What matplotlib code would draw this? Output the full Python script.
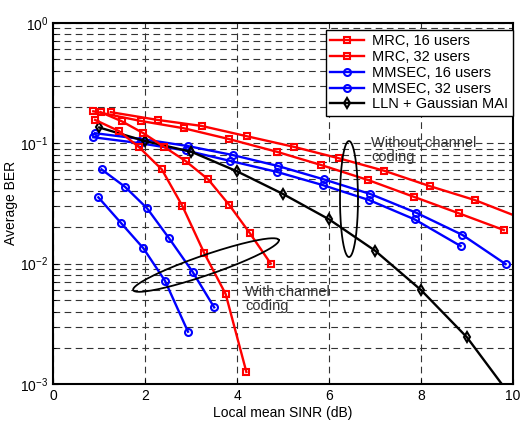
import numpy as np
import matplotlib
matplotlib.use("Agg")
import matplotlib.pyplot as plt

plt.rcParams['font.family'] = ['Liberation Sans', 'DejaVu Sans']

# uncoded curves
mrc16_x = [0.87, 1.90, 2.84, 3.83, 4.86, 5.83, 6.85, 7.84, 8.83, 9.80]
mrc16_y = [0.184, 0.153, 0.133, 0.108, 0.0849, 0.0658, 0.0494, 0.0359, 0.0261, 0.019]
mrc32_x = [1.25, 2.27, 3.23, 4.22, 5.23, 6.22, 7.20, 8.19, 9.17, 10.16]
mrc32_y = [0.181, 0.156, 0.139, 0.114, 0.0933, 0.0748, 0.059, 0.044, 0.0337, 0.024]
mmse16_x = [0.87, 1.88, 2.88, 3.84, 4.86, 5.86, 6.87, 7.86, 8.86]
mmse16_y = [0.112, 0.100, 0.087, 0.0714, 0.0578, 0.0449, 0.0337, 0.0233, 0.014]
mmse32_x = [0.91, 1.94, 2.93, 3.91, 4.89, 5.88, 6.90, 7.90, 8.90, 9.84]
mmse32_y = [0.121, 0.108, 0.0946, 0.0796, 0.0646, 0.0501, 0.0378, 0.0264, 0.0173, 0.0099]
lln_x = [1, 2, 3, 4, 5, 6, 7, 8, 9, 10]
lln_y = [0.135, 0.104, 0.0849, 0.0583, 0.0378, 0.0233, 0.0128, 0.00603, 0.00244, 0.00075]

# coded curves
mrc16c_x = [0.91, 1.43, 1.87, 2.36, 2.81, 3.28, 3.75, 4.20]
mrc16c_y = [0.156, 0.126, 0.0923, 0.0606, 0.030, 0.0123, 0.00558, 0.00126]
mrc32c_x = [1.03, 1.49, 1.96, 2.41, 2.88, 3.37, 3.83, 4.28, 4.73]
mrc32c_y = [0.181, 0.152, 0.121, 0.0933, 0.071, 0.050, 0.0306, 0.0178, 0.010]
mmse16c_x = [0.98, 1.47, 1.96, 2.43, 2.93]
mmse16c_y = [0.0355, 0.0218, 0.0134, 0.0072, 0.00272]
mmse32c_x = [1.05, 1.56, 2.04, 2.52, 3.03, 3.50]
mmse32c_y = [0.0606, 0.0434, 0.0288, 0.0162, 0.00855, 0.00433]

fig = plt.figure(figsize=(5.2, 4.24), dpi=100)
ax = fig.add_axes([0.1025, 0.0943, 0.884, 0.852])

red_style = dict(color='#ff0000', marker='s', markersize=5, mfc='none', mew=1.5, lw=1.7)
blue_style = dict(color='#0000ff', marker='o', markersize=5, mfc='none', mew=1.5, lw=1.7)
black_style = dict(color='black', marker='d', markersize=5.5, mfc='none', mew=1.5, lw=1.7)

ax.plot(mrc16_x, mrc16_y, label='MRC, 16 users', **red_style)
ax.plot(mrc32_x, mrc32_y, label='MRC, 32 users', **red_style)
ax.plot(mmse16_x, mmse16_y, label='MMSEC, 16 users', **blue_style)
ax.plot(mmse32_x, mmse32_y, label='MMSEC, 32 users', **blue_style)
ax.plot(lln_x, lln_y, label='LLN + Gaussian MAI', **black_style)
ax.plot(mrc16c_x, mrc16c_y, **red_style)
ax.plot(mrc32c_x, mrc32c_y, **red_style)
ax.plot(mmse16c_x, mmse16c_y, **blue_style)
ax.plot(mmse32c_x, mmse32c_y, **blue_style)

ax.set_yscale('log')
ax.set_xlim(0, 10)
ax.set_ylim(1e-3, 1)
ax.set_xticks([0, 2, 4, 6, 8, 10])
ax.set_xlabel('Local mean SINR (dB)', fontsize=10, labelpad=2)
ax.set_ylabel('Average BER', fontsize=10, labelpad=2)
ax.tick_params(which='both', direction='in', labelsize=10)
ax.tick_params(axis='y', which='minor', labelleft=False)
ax.grid(True, which='both', axis='y', color='0.2', linestyle=(0, (6, 4)), lw=0.8)
ax.grid(True, which='major', axis='x', color='0.2', linestyle=(0, (6, 4)), lw=0.8)
for s in ax.spines.values():
    s.set_linewidth(1.5)

# annotation ellipses, drawn in pixel space of the 520x424 figure
def ellipse(cx, cy, a, b, ang):
    t = np.linspace(0, 2 * np.pi, 200)
    r = np.deg2rad(ang)
    px = cx + a * np.cos(t) * np.cos(r) - b * np.sin(t) * np.sin(r)
    py = cy + a * np.cos(t) * np.sin(r) + b * np.sin(t) * np.cos(r)
    fx = (px - 53.3) / 459.7
    fy = (384 - py) / 361.3
    ax.plot(fx, fy, color='black', lw=1.3, transform=ax.transAxes, clip_on=False)

ellipse(349, 199, 9, 58, 0)
ellipse(206, 265, 77, 10, -19)

ax.text(6.92, 0.114, 'Without channel\ncoding', fontsize=10.5, color='0.2',
        va='top', ha='left', linespacing=1.0)
ax.text(4.17, 0.0066, 'With channel\ncoding', fontsize=10.5, color='0.2',
        va='top', ha='left', linespacing=1.0)

leg = ax.legend(loc='upper right', bbox_to_anchor=(1.0, 0.98), borderaxespad=0,
                fontsize=10.5, fancybox=False, framealpha=1, edgecolor='black',
                handlelength=2.3, labelspacing=0.12, borderpad=0.3, handletextpad=0.6)
leg.get_frame().set_linewidth(1.0)

fig.savefig('out.png', dpi=100)
